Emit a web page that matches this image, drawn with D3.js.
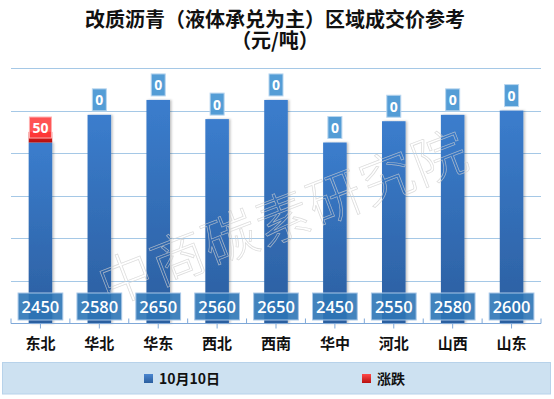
<!DOCTYPE html>
<html>
<head>
<meta charset="utf-8">
<script src="https://cdn.jsdelivr.net/npm/d3@7"></script>
<style>
  html, body { margin: 0; padding: 0; background: #fff; }
  svg { display: block; }
</style>
</head>
<body>
<div id="chart"></div>
<script>
// chart data
const titleLines = ['改质沥青（液体承兑为主）区域成交价参考', '（元/吨）'];
const categories = ['东北', '华北', '华东', '西北', '西南', '华中', '河北', '山西', '山东'];
const prices = [2450, 2580, 2650, 2560, 2650, 2450, 2550, 2580, 2600];
const changes = [50, 0, 0, 0, 0, 0, 0, 0, 0];
const yDomain = [1600, 2800];
const seriesNames = ['10月10日', '涨跌'];
const watermark = '中商碳素研究院';

const width = 554, height = 399;
const plot = { left: 11, right: 541, top: 68, bottom: 323.5 };
const cjk = '"Noto Sans CJK SC", "Noto Sans", sans-serif';
const num = '"Open Sans", "Liberation Sans", Arial, sans-serif';

const svg = d3.select('#chart').append('svg')
  .attr('width', width).attr('height', height);

const defs = svg.append('defs');
function vGrad(id, top, bottom) {
  const g = defs.append('linearGradient').attr('id', id)
    .attr('x1', 0).attr('y1', 0).attr('x2', 0).attr('y2', 1);
  g.append('stop').attr('offset', '0%').attr('stop-color', top);
  g.append('stop').attr('offset', '100%').attr('stop-color', bottom);
}
vGrad('gBlue', '#3b7dcd', '#2b5e9f');
vGrad('gRed', '#ff2020', '#b00f0f');
vGrad('gLegBlue', '#4a86d0', '#2b5e9f');
vGrad('gLegRed', '#ff4a4a', '#b81010');

const shadow = defs.append('filter').attr('id', 'shadow')
  .attr('x', '-20%').attr('y', '-5%').attr('width', '150%').attr('height', '115%');
shadow.append('feDropShadow').attr('dx', 1.5).attr('dy', 0).attr('stdDeviation', 1)
  .attr('flood-color', '#000').attr('flood-opacity', 0.25);

// title
svg.append('g').selectAll('text').data(titleLines).join('text')
  .attr('x', width / 2 - 2)
  .attr('y', (d, i) => 27 + i * 21)
  .attr('text-anchor', 'middle')
  .style('font-family', cjk).style('font-weight', 700).style('font-size', '20px')
  .style('fill', '#111')
  .text(d => d);

// scales
const x = d3.scaleBand().domain(categories)
  .range([plot.left, plot.right]).paddingInner(0.6).paddingOuter(0.3);
const y = d3.scaleLinear().domain(yDomain).range([plot.bottom, plot.top]);
const step = x.step();

// gridlines
svg.append('g').selectAll('line')
  .data(y.ticks(6).filter(t => t > yDomain[0]))
  .join('line')
  .attr('x1', plot.left).attr('x2', plot.right)
  .attr('y1', d => Math.round(y(d)) + 0.5).attr('y2', d => Math.round(y(d)) + 0.5)
  .attr('stroke', '#a5c8e6').attr('stroke-width', 1);

// bars
const rows = categories.map((c, i) => ({ cat: c, price: prices[i], change: changes[i] }));
const bars = svg.append('g');
bars.selectAll('rect.price').data(rows).join('rect')
  .attr('class', 'price')
  .attr('x', d => x(d.cat)).attr('width', x.bandwidth())
  .attr('y', d => y(d.price)).attr('height', d => y(yDomain[0]) - y(d.price))
  .attr('fill', 'url(#gBlue)')
  .attr('filter', 'url(#shadow)');
bars.selectAll('rect.change').data(rows.filter(d => d.change > 0)).join('rect')
  .attr('class', 'change')
  .attr('x', d => x(d.cat)).attr('width', x.bandwidth())
  .attr('y', d => y(d.price + d.change)).attr('height', d => y(d.price) - y(d.price + d.change))
  .attr('fill', 'url(#gRed)');

// x axis
const axis = svg.append('g')
  .attr('transform', `translate(0,${plot.bottom})`)
  .call(d3.axisBottom(x).tickSize(5).tickFormat(''));
axis.select('.domain').attr('stroke', '#7fa8d8').attr('d', `M${plot.left},0H${plot.right}`);
axis.selectAll('.tick line').attr('stroke', '#7fa8d8');
axis.append('g').selectAll('line')
  .data(d3.range(categories.length + 1))
  .join('line')
  .attr('x1', i => plot.left + i * step).attr('x2', i => plot.left + i * step)
  .attr('y1', -5).attr('y2', 0)
  .attr('stroke', '#7fa8d8');

svg.append('g').selectAll('text').data(categories).join('text')
  .attr('x', d => x(d) + x.bandwidth() / 2)
  .attr('y', 349)
  .attr('text-anchor', 'middle')
  .style('font-family', cjk).style('font-weight', 700).style('font-size', '15px')
  .style('fill', '#111')
  .text(d => d);

// watermark
svg.append('text')
  .attr('transform', 'translate(282,214) rotate(-21)')
  .attr('text-anchor', 'middle')
  .attr('dominant-baseline', 'central')
  .style('font-family', cjk).style('font-weight', 300).style('font-size', '54px')
  .style('letter-spacing', '2px')
  .attr('fill', 'none').attr('stroke', '#cfcfcf').attr('stroke-width', 0.7)
  .attr('stroke-opacity', 0.75)
  .text(watermark);

// labels: box + text
function label(g, text, cx, cy, opts) {
  const t = g.append('text')
    .attr('x', cx).attr('y', cy)
    .attr('text-anchor', 'middle').attr('dominant-baseline', 'central')
    .style('font-family', num).style('font-size', opts.size + 'px')
    .style('font-weight', opts.weight || 400)
    .style('fill', '#fff')
    .text(text);
  const w = t.node().getComputedTextLength() + opts.pad;
  g.insert('rect', () => t.node())
    .attr('x', cx - w / 2).attr('y', cy - opts.h / 2)
    .attr('width', w).attr('height', opts.h)
    .attr('fill', opts.fill).attr('fill-opacity', opts.opacity)
    .attr('stroke', opts.stroke).attr('stroke-width', 1);
}

const labels = svg.append('g');
rows.forEach(d => {
  const cx = x(d.cat) + x.bandwidth() / 2;
  const lg = labels.append('g');
  label(lg, d.price, cx, y(yDomain[0]) - 17, {
    size: 16.5, weight: 600, pad: 7, h: 27, fill: '#2e75b6', opacity: 0.9, stroke: '#a9c8e8'
  });
  const lc = labels.append('g');
  if (d.change > 0) {
    label(lc, d.change, cx, y(d.price) - 15, {
      size: 14, weight: 700, pad: 6, h: 21, fill: '#ff3b3b', opacity: 0.88, stroke: '#ffb0b0'
    });
  } else {
    label(lc, d.change, cx, y(d.price + d.change) - 15, {
      size: 14, weight: 700, pad: 6, h: 22, fill: '#4b98d4', opacity: 0.95, stroke: '#b9d6ef'
    });
  }
});

// legend
const legend = svg.append('g');
legend.append('rect')
  .attr('x', 2.5).attr('y', 362.5).attr('width', 548).attr('height', 31.5)
  .attr('fill', '#cde1f1').attr('stroke', '#b7d2ea');
const legendX = [144, 362];
const legendFill = ['url(#gLegBlue)', 'url(#gLegRed)'];
const items = legend.selectAll('g.item').data(seriesNames).join('g')
  .attr('class', 'item')
  .attr('transform', (d, i) => `translate(${legendX[i]},374)`);
items.append('rect')
  .attr('width', 9).attr('height', 9)
  .attr('fill', (d, i) => legendFill[i]);
items.append('text')
  .attr('x', 15).attr('y', 10)
  .style('font-family', cjk).style('font-weight', 700).style('font-size', '14px')
  .style('fill', '#111')
  .text(d => d);
</script>
</body>
</html>
